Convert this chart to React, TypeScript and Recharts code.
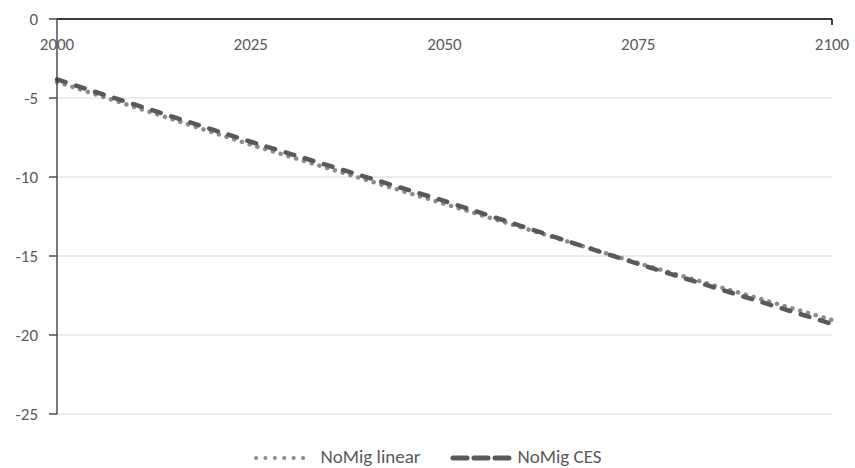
import { LineChart, Line, XAxis, YAxis, CartesianGrid } from 'recharts'

const years = [2000, 2005, 2010, 2015, 2020, 2025, 2030, 2035, 2040, 2045, 2050, 2055, 2060, 2065, 2070, 2075, 2080, 2085, 2090, 2095, 2100]
const linearValues = [-3.98, -4.77, -5.57, -6.36, -7.16, -7.95, -8.7, -9.45, -10.2, -10.95, -11.7, -12.45, -13.2, -13.95, -14.7, -15.45, -16.17, -16.89, -17.61, -18.33, -19.05]
const cesValues = [-3.82, -4.62, -5.41, -6.2, -6.99, -7.77, -8.52, -9.27, -10.02, -10.77, -11.52, -12.32, -13.12, -13.92, -14.72, -15.5, -16.26, -17.02, -17.78, -18.54, -19.3]
const xTicks = [2000, 2025, 2050, 2075, 2100]
const yTicks = [0, -5, -10, -15, -20, -25]
const seriesNames = ['NoMig linear', 'NoMig CES']

const FONT = 'Calibri, Carlito, Lato, sans-serif'
const TEXT = '#595959'

const data = years.map((y, i) => ({ year: y, linear: linearValues[i], ces: cesValues[i] }))

// x labels sit under the axis line (the axis is at y = 0, top of plot)
function XTick({ x, y, payload, index }: { x?: number; y?: number; payload?: { value: number }; index?: number }) {
  const last = index === xTicks.length - 1
  const yy = y ?? 0
  return (
    <g>
      {last && <line x1={x} x2={x} y1={yy} y2={yy + 6} stroke="#000" strokeWidth={1.5} />}
      <text x={x} y={yy + 31} textAnchor="middle" fill={TEXT} fontSize={17} fontFamily={FONT}>
        {payload?.value}
      </text>
    </g>
  )
}

function LegendSample({ dashed }: { dashed: boolean }) {
  return (
    <svg width={62} height={10} style={{ verticalAlign: 'middle', marginRight: 5 }}>
      {dashed ? (
        <line x1={3} x2={59} y1={5} y2={5} stroke="#595959" strokeWidth={5} strokeDasharray="14 7" strokeLinecap="round" />
      ) : (
        <line x1={3} x2={59} y1={5} y2={5} stroke="#8c8c8c" strokeWidth={4} strokeDasharray="0.1 9.3" strokeLinecap="round" />
      )}
    </svg>
  )
}

export default function App() {
  return (
    <div style={{ position: 'absolute', left: 0, top: 0, width: 855, height: 468, background: '#fff' }}>
      <LineChart width={855} height={468} data={data} margin={{ top: 18, right: 23, bottom: 54, left: 0 }}>
        <CartesianGrid horizontal vertical={false} stroke="#d9d9d9" strokeWidth={1.2} />
        <XAxis
          dataKey="year"
          type="number"
          domain={[2000, 2100]}
          ticks={xTicks}
          orientation="top"
          height={1}
          tickSize={0}
          tickMargin={0}
          tickLine={false}
          axisLine={{ stroke: '#000', strokeWidth: 1.5 }}
          tick={<XTick />}
          interval={0}
        />
        <YAxis
          type="number"
          domain={[-25, 0]}
          ticks={yTicks}
          width={57}
          tickSize={8}
          tickMargin={11}
          axisLine={{ stroke: '#333', strokeWidth: 1.3 }}
          tickLine={{ stroke: '#333', strokeWidth: 1.3 }}
          tick={{ fill: TEXT, fontSize: 17, fontFamily: FONT }}
          interval={0}
        />
        <Line
          dataKey="linear"
          name={seriesNames[0]}
          stroke="#8c8c8c"
          strokeWidth={4.5}
          strokeDasharray="0.1 8"
          strokeLinecap="round"
          dot={false}
          activeDot={false}
          isAnimationActive={false}
        />
        <Line
          dataKey="ces"
          name={seriesNames[1]}
          stroke="#595959"
          strokeWidth={4.5}
          strokeDasharray="9 11"
          strokeLinecap="round"
          dot={false}
          activeDot={false}
          isAnimationActive={false}
        />
      </LineChart>
      <div
        style={{
          position: 'absolute',
          top: 445,
          left: 0,
          width: 855,
          display: 'flex',
          justifyContent: 'center',
          fontFamily: FONT,
          fontSize: 19,
          color: TEXT,
          lineHeight: '24px',
          whiteSpace: 'nowrap',
        }}
      >
        <span style={{ marginRight: 30 }}>
          <LegendSample dashed={false} />
          {seriesNames[0]}
        </span>
        <span>
          <LegendSample dashed />
          {seriesNames[1]}
        </span>
      </div>
    </div>
  )
}
